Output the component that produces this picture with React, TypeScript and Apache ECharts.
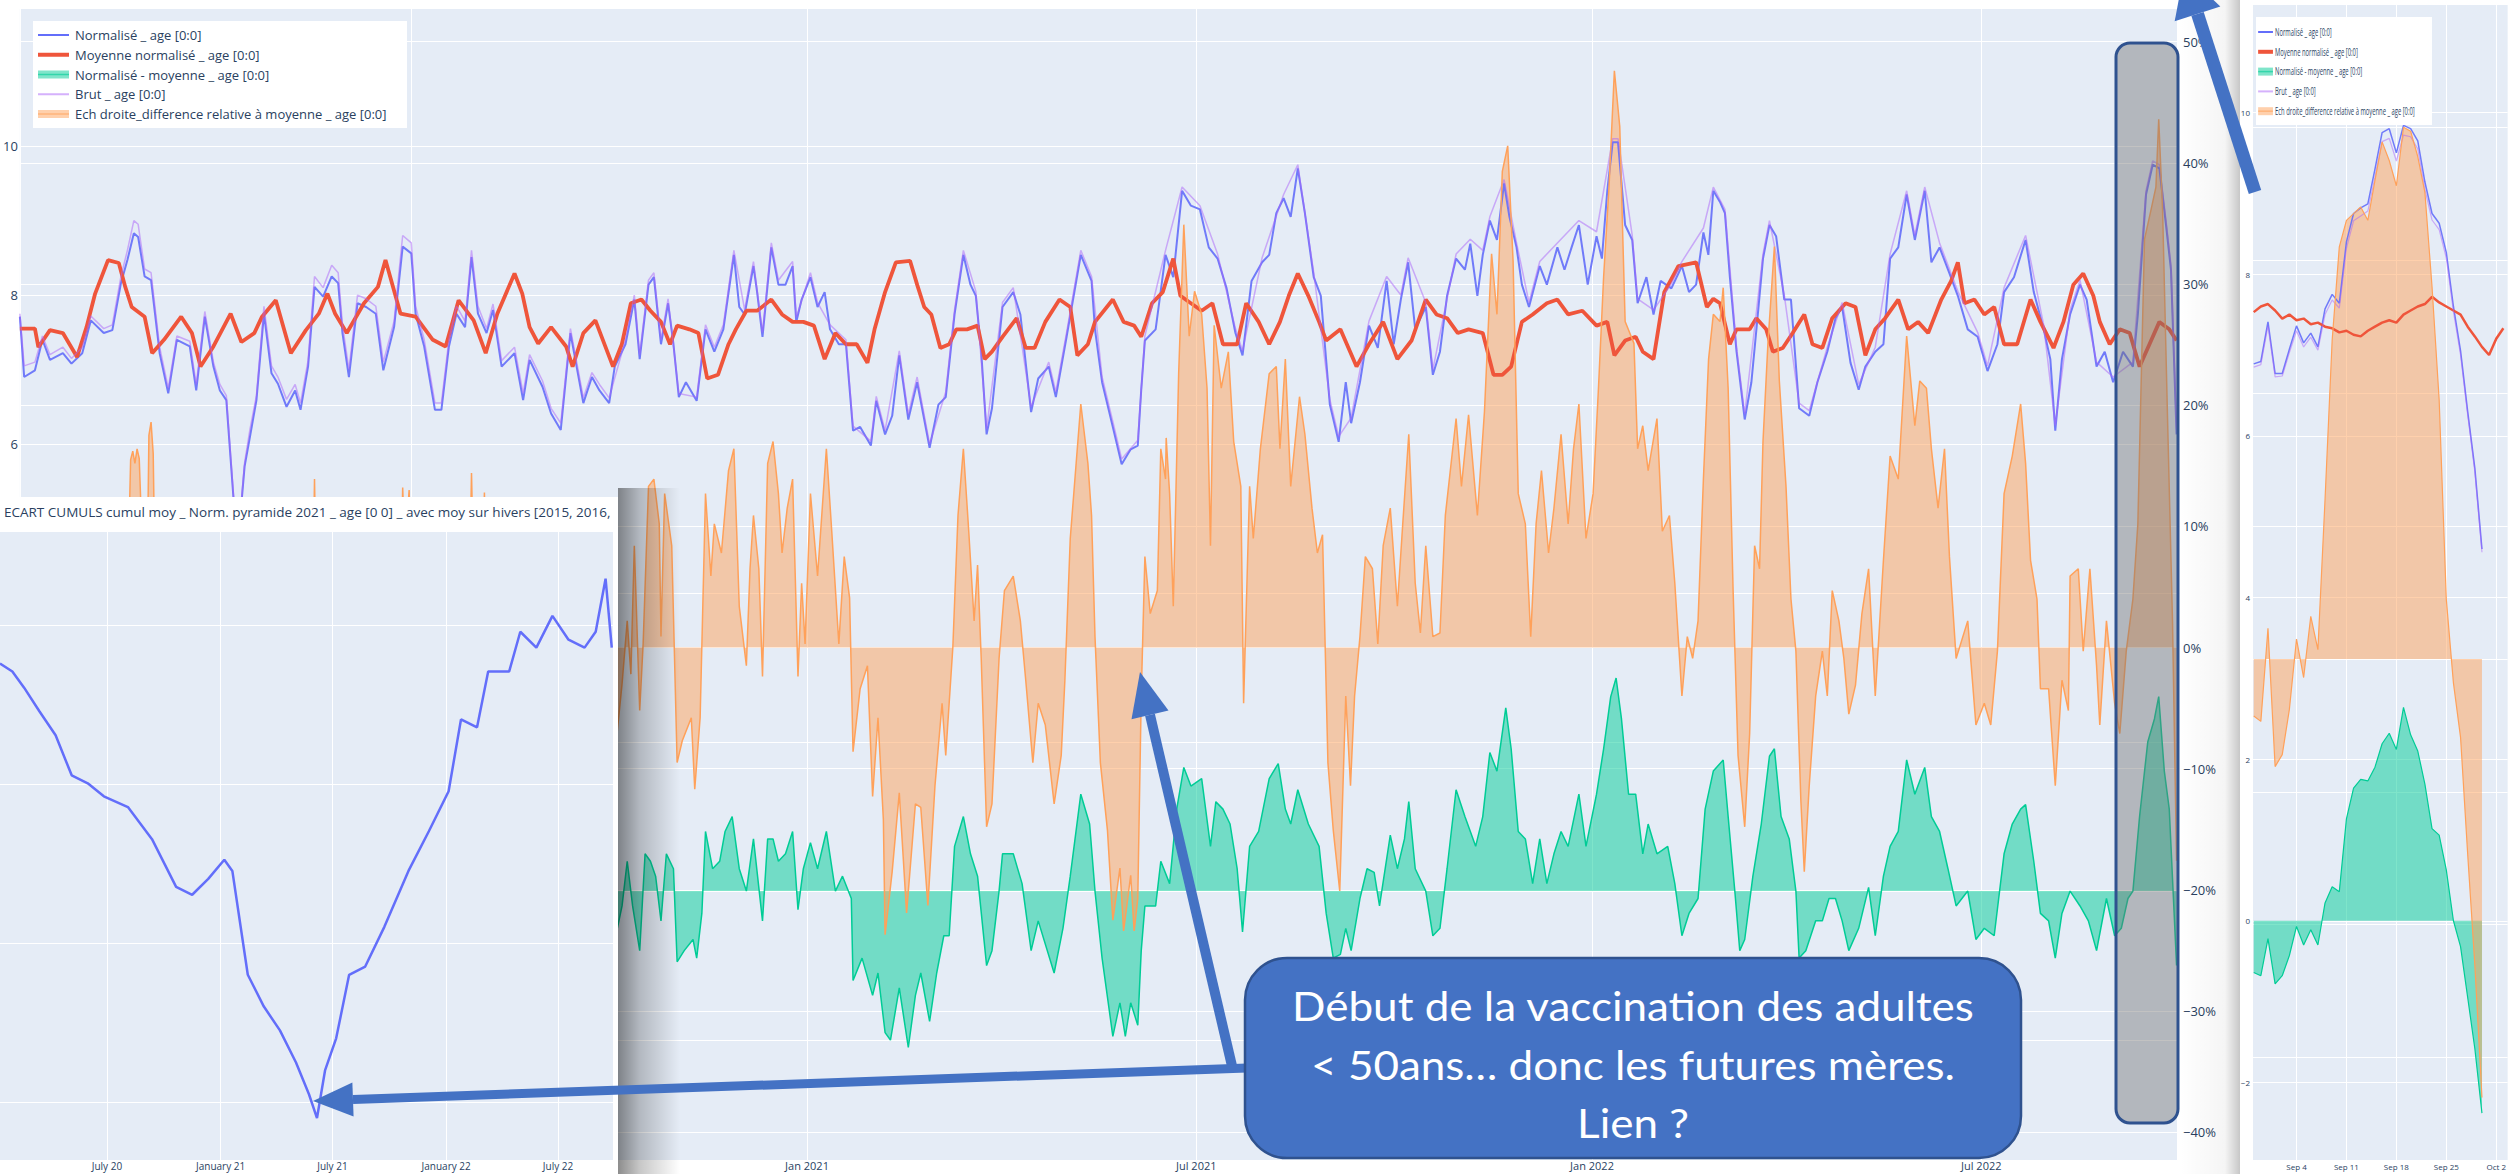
import React, { useEffect, useRef } from "react";
import * as echarts from "echarts";

const DAY = 86400000;
const T0 = Date.UTC(2020, 0, 1);

// ---------- main chart: [days since 2020-01-01, value] ----------
const normalise: [number, number][] = [
[0,7.71],[2,6.9],[7,6.99],[10.5,7.4],[14,7.13],[20,7.22],[24,7.08],[29,7.22],[33,7.66],[39,7.49],[43,7.53],[47,8.16],[50,8.47],[53,8.83],[55,8.78],[58,8.25],[61,8.2],[65,7.22],[69,6.68],[73,7.4],[79,7.31],[82,6.72],[86,7.71],[90,7.04],[93,6.72],[96,6.59],[99,5.4],[101,4.6],[103,5.2],[104.5,5.7],[107,6.1],[110,6.59],[113.5,7.75],[117,6.95],[120,6.81],[124,6.5],[128,6.72],[130.5,6.46],[134,7.04],[137,8.11],[141,7.98],[145,8.25],[148,8.16],[150,7.49],[153,6.9],[157,7.89],[161,7.84],[165.5,7.75],[169,6.99],[174,7.57],[178,8.65],[182,8.56],[184,7.75],[188,7.31],[193,6.46],[196,6.46],[199.5,7.31],[203,7.75],[207,7.57],[210,8.51],[213,7.75],[217,7.49],[220,7.8],[224,7.04],[230,7.22],[234,6.59],[237,7.13],[243,6.77],[247,6.41],[251.5,6.19],[256,7.49],[262,6.55],[266,6.9],[269.5,6.72],[274,6.55],
[276.6,7.04],[281.6,7.34],[285.7,7.94],[288.2,7.14],[292.3,8.14],[294.8,8.24],[298.1,7.34],[301.4,7.89],[303.9,7.34],[306.4,6.63],[309.7,6.83],[314.7,6.58],[318.8,7.54],[322.9,7.24],[327.1,7.54],[332,8.54],[334.5,7.84],[337,7.74],[341.1,8.39],[342.8,8.04],[345.3,7.44],[349.4,8.64],[352.7,8.14],[356,8.14],[359.3,8.39],[361,7.64],[363.5,7.94],[367.6,8.24],[370.9,7.84],[374.2,8.04],[376.7,7.54],[380.8,7.34],[384.1,7.34],[387.4,6.18],[390.7,6.23],[395.7,5.98],[398.2,6.58],[402.3,6.13],[405.6,6.38],[408.9,7.19],[413.1,6.33],[417.2,6.83],[423,5.95],[427.1,6.53],[430.5,6.63],[434.6,7.74],[438.7,8.54],[442,8.14],[444.5,7.99],[447,7.24],[449.5,6.13],[452,6.48],[456.9,7.84],[461.9,8.04],[465.2,7.74],[470.2,6.43],[473.5,6.88],[478.4,7.04],[481.7,6.63],[486.7,7.44],[493.3,8.54],[498.3,8.19],[499.9,7.54],[503.2,6.83],[508.2,6.23],[512.3,5.73],[516.5,5.93],[519.8,5.98],[521.4,6.73],[523.1,7.39],[528.1,7.54],
[532.7,8.54],[536.3,8.24],[540.4,9.4],[544.5,9.2],[548.7,9.15],[552.8,8.64],[556.9,8.49],[561.1,8.09],[565.2,7.49],[568.5,7.19],[572.7,8.19],[577.6,8.44],[580.9,8.54],[584.2,9.1],[587.6,9.3],[590.9,9.05],[594.2,9.7],[597.5,9.1],[601.6,8.24],[604.9,7.99],[609.1,6.53],[613.2,6.03],[616.5,6.83],[619,6.28],[623.1,6.83],[627.3,7.59],[631.4,7.29],[635.5,8.19],[638.8,7.34],[642.1,7.94],[645.5,8.44],[648.8,7.54],[653.7,7.84],[657,6.93],[660.3,7.24],[663.6,7.99],[667.8,8.49],[671.9,8.34],[674.4,8.69],[677.7,7.99],[680.2,8.54],[683.5,9.0],[686.8,8.74],[690.1,9.5],[692.6,9.05],[695.9,8.64],[698.4,8.14],[701.7,7.84],[706.7,8.39],[710,8.14],[714.9,8.64],[718.2,8.34],[721.5,8.64],[724.9,8.94],[729,8.14],[733.1,8.79],[735.6,8.49],[738.1,9.4],[740.6,10.05],[743.1,10.05],[746.4,8.94],[749.7,8.74],[752.2,7.89],[756.3,8.24],[759.6,7.74],[762.9,8.19],[767.9,8.09],[772.8,8.39],[776.1,8.04],[779.4,8.14],[782.8,8.84],
[785.1,8.54],[787.4,9.4],[790.5,9.25],[792.8,9.1],[795.1,8.24],[798.2,7.24],[802,6.33],[805.1,6.83],[808.1,7.74],[810.5,8.49],[813.5,8.94],[816.6,8.79],[820.4,7.94],[823.5,7.94],[827.3,6.48],[832,6.38],[835.8,6.83],[840.4,7.24],[844.2,7.69],[847.3,7.84],[851.2,7.09],[855,6.73],[858.1,7.04],[862.7,7.24],[866.5,7.34],[869.6,8.49],[873.4,8.64],[877.3,9.35],[881.1,8.74],[885.7,9.4],[888.8,8.44],[892.6,8.64],[897.2,8.29],[901.1,7.99],[905.7,7.54],[910.3,7.44],[914.9,6.98],[919.5,7.34],[922.6,8.04],[927.2,8.24],[932.6,8.74],[936.4,8.04],[941,7.54],[944.1,7.14],[946.4,6.18],[949.5,7.14],[953.3,7.74],[957.9,8.14],[961,7.94],[965.6,7.04],[969.4,7.24],[973.3,6.83],[977.9,7.24],[982.5,7.04],[984.8,7.74],[988.6,9.35],[991.7,9.75],[994.8,9.7],[997.9,8.94],[1000.2,8.34],[1002.8,6.13]
];

const moyenne: [number, number][] = [
[0,7.55],[7,7.55],[8.6,7.3],[14,7.53],[20,7.49],[26.6,7.17],[31,7.57],[35,8.02],[41,8.47],[46,8.43],[49,8.11],[52,7.84],[58,7.71],[61.5,7.22],[67,7.4],[75,7.71],[80,7.49],[84,7.04],[90,7.31],[98,7.75],[103,7.37],[109,7.49],[112.6,7.71],[119,7.93],[126,7.22],[133,7.53],[139,7.75],[143,8.02],[146.6,7.75],[152,7.49],[160,7.89],[166.5,8.11],[170,8.47],[177,7.75],[184,7.71],[192,7.4],[198,7.31],[204,7.93],[211,7.66],[216.6,7.22],[222,7.75],[230,8.29],[233.6,8.02],[237,7.57],[241,7.35],[247,7.57],[254,7.31],[257,7.04],[262,7.49],[267.6,7.66],
[275.8,7.04],[279.9,7.34],[284.1,7.89],[289,7.94],[293.2,7.79],[298.1,7.64],[302.3,7.34],[305.6,7.59],[311.3,7.54],[315.5,7.49],[319.6,6.88],[324.6,6.93],[329.5,7.34],[332.9,7.54],[337.8,7.79],[342.8,7.79],[349.4,7.94],[354.4,7.74],[359.3,7.64],[364.3,7.64],[369.2,7.59],[374.2,7.14],[379.2,7.49],[384.1,7.34],[389.1,7.34],[394.1,7.09],[397.4,7.54],[402.3,8.04],[407.3,8.44],[413.9,8.46],[417.2,8.14],[420.5,7.84],[423.8,7.74],[428,7.29],[432.1,7.34],[435.4,7.54],[440.4,7.54],[445.3,7.59],[448.6,7.14],[452,7.24],[456.9,7.44],[463.5,7.69],[467.7,7.29],[471.8,7.29],[476.8,7.64],[483.4,7.94],[488.4,7.84],[491.7,7.19],[496.6,7.34],[499.9,7.64],[508.2,7.94],[513.2,7.64],[518.1,7.59],[521.4,7.44],[526.4,7.89],[531.4,8.04],
[536.3,8.49],[539.6,7.99],[544.5,7.89],[549.5,7.79],[554.5,7.89],[559.4,7.34],[566,7.34],[570.2,7.89],[576,7.64],[580.9,7.34],[585.9,7.64],[590,7.99],[594.2,8.29],[599.1,7.99],[604.1,7.64],[607.4,7.39],[614,7.54],[621.5,7.04],[627.3,7.34],[633.9,7.64],[640.5,7.14],[647.1,7.39],[653.7,7.94],[658.7,7.74],[663.6,7.69],[668.6,7.49],[673.6,7.54],[680.2,7.49],[685.2,6.93],[689.3,6.93],[693.4,7.04],[698.4,7.64],[703.4,7.74],[710,7.89],[714.9,7.94],[719.9,7.74],[726.5,7.79],[733.1,7.59],[738.1,7.64],[741.4,7.19],[746.4,7.39],[751.3,7.44],[754.6,7.24],[759.6,7.14],[764.6,8.04],[771.2,8.39],[779.4,8.44],[784.4,7.84],
[787.4,7.95],[790.5,7.89],[795.1,7.34],[798.2,7.54],[804.3,7.54],[807.4,7.69],[812,7.54],[815.1,7.24],[819.7,7.29],[824.3,7.49],[829.7,7.74],[833.5,7.34],[838.1,7.29],[842.7,7.69],[848.9,7.89],[853.5,7.84],[858.1,7.19],[862.7,7.54],[867.3,7.69],[873.4,7.94],[878,7.54],[882.6,7.64],[887.3,7.49],[893.4,7.94],[898,8.19],[901.1,8.44],[904.2,7.89],[908.8,7.94],[913.4,7.74],[918,7.84],[922.6,7.34],[928.7,7.34],[934.9,7.94],[939.5,7.64],[945.6,7.29],[950.2,7.64],[954.8,8.14],[959.4,8.29],[964.1,7.99],[967.1,7.64],[971.7,7.34],[976.4,7.54],[981,7.49],[985.6,7.04],[990.2,7.34],[994.8,7.64],[999.4,7.54],[1002.8,7.39]
];

const ecart: [number, number][] = [
[0,0.16],[2,-0.65],[11,0],[20,-0.27],[29,-0.3],[33,-0.24],[42,-0.9],[47,-0.25],[53,1.0],[56,0.75],[61,1.0],[65,-0.1],[69,-0.7],[78,-0.3],[82,-0.6],[86,0.6],[93,-0.6],[98,-2.3],[101,-3.0],[104,-1.7],[110,-0.9],[113,0.05],[120,-1.1],[128,-0.7],[131,-1.0],[137,0.4],[145,0.4],[153,-0.7],[157,0.1],[169,-1.4],[178,0.95],[182,0.86],[193,-0.9],[200,-0.2],[210,0.85],[216,0.9],[224,-0.8],[230,-1.07],[234,-1.4],[243,-0.6],[251,-1.1],[256,0.4],[262,-0.95],[270,-0.6],[276,-0.75],[280,-0.2],
[282.4,0.4],[284.9,-0.2],[288.2,-0.8],[290.7,0.5],[293.2,0.4],[295.6,0.2],[298.1,-0.4],[300.6,0.5],[303.9,0.3],[305.6,-0.95],[308.9,-0.8],[313,-0.65],[314.7,-0.9],[317.1,-0.3],[318.8,0.8],[322.1,0.3],[325.4,0.4],[327.9,0.8],[331.2,1.0],[334.5,0.3],[337.8,0],[341.1,0.7],[345.3,-0.4],[347.7,0.7],[350.2,0.7],[352.7,0.4],[356,0.5],[359.3,0.8],[361.8,-0.25],[364.3,0.3],[367.6,0.65],[370.9,0.3],[375,0.8],[379.2,0],[382.5,0.2],[386.6,-0.1],[387.4,-1.2],[391.6,-0.9],[396.5,-1.4],[399,-1.1],[402.3,-1.9],[404.8,-2.0],[408.9,-1.3],[413.1,-2.1],[416.4,-1.4],[418.9,-1.1],[423,-1.75],[426.3,-1.1],[429.6,-0.6],[432.1,-0.6],[434.6,0.6],[438.7,1.0],[442,0.5],[445.3,0.2],[449.5,-1.0],[452,-0.8],[455.3,0],[456.9,0.5],[461.9,0.5],[466,0.1],[470.2,-0.8],[473.5,-0.4],[480.9,-1.1],[485,-0.5],[488.4,0.2],[493.3,1.3],[497.4,0.9],[499.9,0],[503.2,-0.9],[508.2,-1.95],[511.5,-1.5],[514,-1.95],[516.5,-1.5],[519.8,-1.8],[521.4,-0.8],[523.1,-0.2],[528.1,-0.2],[530.5,0.4],
[534.6,0.1],[537.9,1.1],[541.2,1.66],[544.5,1.41],[549.5,1.51],[553.6,0.6],[556.1,1.2],[559.4,1.1],[562.7,0.9],[566,0.3],[568.5,-0.55],[571.8,0.6],[576,0.8],[580.9,1.51],[585.1,1.71],[588.4,1.1],[590.9,0.9],[594.2,1.36],[599.1,0.9],[604.1,0.6],[607.4,-0.3],[610.7,-0.9],[614,-0.85],[616.5,-0.5],[619,-0.8],[623.1,-0.1],[626.4,0.3],[629.7,0.25],[632.2,-0.2],[637.2,0.75],[640.5,0.3],[643.8,0.7],[645.8,1.2],[648.8,0.3],[653.7,0],[657,-0.6],[660.3,-0.5],[663.6,0.3],[667.8,1.36],[671.9,1.0],[676.9,0.6],[680.2,1.0],[683.5,1.86],[686.8,1.61],[690.9,2.46],[693.4,1.91],[696.7,0.8],[700,0.7],[703.4,0.1],[706.7,0.7],[710,0.1],[713.3,0.5],[716.6,0.8],[719.9,0.6],[724.9,1.3],[728.2,0.6],[733.1,1.3],[736.4,1.91],[739.7,2.61],[742.2,2.86],[744.7,2.31],[748,1.3],[751.3,1.3],[754.6,0.5],[757.1,0.9],[761.2,0.5],[766.2,0.6],[769.5,0.1],[772.8,-0.6],[776.1,-0.3],[780.3,-0.1],[783.6,1.1],[787.4,1.61],
[792,1.76],[794.3,1.0],[797.4,0],[799.7,-0.8],[802,-0.65],[805.8,0.2],[809.7,0.9],[813.5,1.81],[815.8,1.91],[818.9,1.0],[822.7,0.7],[825.8,0],[827.3,-0.9],[830.4,-0.8],[835,-0.4],[838.1,-0.4],[841.2,-0.1],[844.2,-0.1],[847.3,-0.4],[850.4,-0.8],[855,-0.5],[859.6,0.05],[862.7,-0.6],[866.5,0.2],[869.6,0.6],[873.4,0.8],[877.3,1.76],[881.1,1.3],[885.7,1.66],[888.8,1.0],[892.6,0.8],[896.5,0.3],[900.3,-0.2],[905.7,0],[909.5,-0.65],[913.4,-0.5],[918,-0.6],[922.6,0.5],[926.4,0.9],[930.3,1.1],[932.6,1.16],[936.4,0.4],[939.5,-0.3],[943.3,-0.4],[946.4,-0.9],[949.5,-0.3],[953.3,0],[957.9,-0.2],[961.8,-0.4],[965.6,-0.8],[970.2,-0.1],[974,-0.6],[977.1,-0.5],[980.2,-0.1],[982.5,0],[985.6,1.0],[989.4,2.0],[992.5,2.31],[994.5,2.61],[997.1,1.61],[999.4,1.1],[1002.8,-1.0]
];

const brut: [number, number][] = [
[0,7.75],[2,7.05],[7,7.1],[10.5,7.45],[14,7.2],[20,7.3],[24,7.15],[29,7.3],[33,7.72],[39,7.55],[43,7.6],[47,8.25],[50,8.6],[53,9.0],[55,8.95],[58,8.35],[61,8.3],[65,7.3],[69,6.75],[73,7.45],[79,7.38],[82,6.8],[86,7.78],[90,7.1],[93,6.8],[96,6.65],[99,5.45],[101,4.65],[103,5.25],[104.5,5.75],[107,6.2],[110,6.65],[113.5,7.85],[117,7.05],[120,6.9],[124,6.6],[128,6.8],[130.5,6.55],[134,7.12],[137,8.25],[141,8.1],[145,8.4],[148,8.3],[150,7.6],[153,7.0],[157,8.0],[161,7.95],[165.5,7.85],[169,7.1],[174,7.65],[178,8.8],[182,8.7],[184,7.85],[188,7.4],[193,6.55],[196,6.55],[199.5,7.4],[203,7.85],[207,7.65],[210,8.6],[213,7.85],[217,7.55],[220,7.88],[224,7.12],[230,7.3],[234,6.68],[237,7.2],[243,6.85],[247,6.48],[251.5,6.28],[256,7.55],[262,6.62],[266,6.96],[269.5,6.8],[274,6.62],
[281.6,7.4],[285.7,8.0],[288.2,7.2],[292.3,8.2],[294.8,8.3],[298.1,7.4],[301.4,7.95],[306.4,6.68],[314.7,6.63],[318.8,7.6],[322.9,7.3],[327.1,7.6],[332,8.6],[337,7.8],[341.1,8.45],[345.3,7.5],[349.4,8.7],[352.7,8.2],[359.3,8.45],[361,7.7],[367.6,8.3],[370.9,7.9],[376.7,7.6],[384.1,7.4],[387.4,6.24],[395.7,6.04],[398.2,6.64],[402.3,6.18],[408.9,7.25],[413.1,6.4],[417.2,6.9],[423,6.0],[430.5,6.7],[434.6,7.8],[438.7,8.6],[444.5,8.05],[449.5,6.2],[456.9,7.9],[461.9,8.1],[470.2,6.5],[478.4,7.1],[481.7,6.7],[486.7,7.5],[493.3,8.6],[498.3,8.25],[503.2,6.9],[508.2,6.3],[512.3,5.8],[519.8,6.05],[523.1,7.45],
[532.7,8.6],[540.4,9.45],[548.7,9.2],[556.9,8.55],[565.2,7.55],[568.5,7.25],[577.6,8.5],[587.6,9.35],[594.2,9.75],[601.6,8.3],[609.1,6.6],[613.2,6.1],[619,6.35],[627.3,7.65],[635.5,8.25],[642.1,8.0],[645.5,8.5],[653.7,7.9],[657,7.0],[667.8,8.55],[674.4,8.75],[680.2,8.6],[683.5,9.05],[690.1,9.55],[695.9,8.7],[701.7,7.9],[706.7,8.45],[714.9,8.7],[724.9,9.0],[733.1,8.85],[740.6,10.1],[743.1,10.1],[749.7,8.8],[752.2,7.95],[759.6,7.8],[767.9,8.15],[772.8,8.45],[782.8,8.9],
[787.4,9.45],[792.8,9.15],[798.2,7.3],[802,6.4],[810.5,8.55],[813.5,9.0],[820.4,8.0],[827.3,6.55],[832,6.45],[840.4,7.3],[847.3,7.9],[855,6.8],[862.7,7.3],[869.6,8.55],[877.3,9.4],[881.1,8.8],[885.7,9.45],[892.6,8.7],[901.1,8.05],[910.3,7.5],[914.9,7.05],[922.6,8.1],[932.6,8.8],[941,7.6],[946.4,6.25],[953.3,7.8],[957.9,8.2],[965.6,7.1],[973.3,6.9],[982.5,7.1],[988.6,9.4],[991.7,9.8],[994.8,9.75],[997.9,9.0],[1000.2,8.4],[1002.8,6.2]
];

const diffRel: [number, number][] = [
[0,2.1],[2,-8.6],[11,0],[20,-3.6],[29,-4],[33,-3],[42,-11],[47,-3],[50,4],[51.5,15.5],[52.5,16.2],[53.5,15.2],[54.5,16.4],[55.5,15.6],[57,8],[59,3],[60,17.5],[61,18.6],[62,16],[63,4],[65,-1],[69,-10],[78,-4],[82,-8],[86,8],[93,-8],[98,-30],[101,-40],[104,-23],[110,-12],[113,1],[120,-14],[128,-9],[131,-14],[136,2],[137,13.9],[138,3],[145,5],[153,-9],[157,1],[169,-17],[177,4],[178,13.2],[179,8],[181,13],[182,5],[193,-13],[200,-3],[209,5],[210,14.4],[211,6],[215,4],[216,12.8],[217,3],[224,-10],[230,-13],[234,-18],[243,-8],[251,-15],[256,5],[262,-13],[270,-8],[276,-10],[280,-3],
[282.4,2.2],[284.1,-2.2],[285.7,8.4],[288.2,-5.2],[289.8,0.3],[292.3,13.3],[294.8,13.9],[297.3,10.2],[298.1,0.9],[299.8,12.7],[303.1,8.4],[305.6,-9.5],[308,-7.7],[312.2,-5.8],[313.8,-11.7],[316.3,-5.8],[318.8,12.7],[321.3,5.9],[322.9,10.2],[326.2,7.8],[329.5,14.6],[332,16.4],[334.5,3.4],[337.8,-1.5],[339.5,6.5],[341.1,10.9],[343.6,6.5],[345.3,-2.4],[347.7,15.2],[350.2,17.0],[352.7,12.7],[354.4,7.8],[356.8,11.5],[359.3,13.9],[361.8,-2.4],[363.5,5.3],[365.1,0.3],[367.6,12.7],[370.9,5.9],[375,16.4],[377.5,9.6],[380.8,0.3],[383.3,7.5],[385.8,4.1],[387.4,-8.6],[390.7,-3.4],[394.1,-1.5],[396.5,-12.3],[399,-5.8],[401.5,-14.2],[402.3,-23.7],[405.6,-18.5],[408.9,-12],[412.3,-21.9],[416.4,-12.9],[418.9,-13.2],[422.2,-21.3],[425.5,-11.4],[428.8,-4.6],[430.5,-8.9],[433.8,0],[436.2,10.9],[438.7,16.4],[441.2,9.6],[443.7,2.2],[445.3,6.8],[447,-0.9],[449.5,-14.8],[452,-12.9],[455.3,-0.9],[457.8,4.7],[461.9,5.9],[465.2,2.2],[467.7,-2.7],[471,-9.5],[473.5,-4.6],[476.8,-6.4],[480.9,-12.9],[484.2,-8.9],[485.9,-2.7],[488.4,9],[493.3,20.1],[496.6,15.2],[498.3,10.9],[499.9,0.9],[502.4,-9.5],[505.7,-15.1],[508.2,-22.5],[511.5,-18.2],[513.2,-23.4],[516.5,-18.8],[518.1,-23.4],[519.8,-20.7],[521.4,-4],[523.1,7.5],[525.6,2.8],[528.9,4.7],[530.5,16.4],[532.7,13.9],
[533,17.3],[534.6,12.7],[536.3,3.4],[538.8,22.6],[541.2,34.9],[543.7,25.7],[546.2,29.4],[549.5,27.5],[552,21.4],[553.6,8.4],[555.3,26.6],[558.6,21.4],[561.9,24.4],[564.4,17.0],[567.7,13.3],[569,-4.6],[571.8,13.3],[573.5,9.0],[576.8,16.4],[580.9,22.6],[584.2,23.2],[585.9,16.4],[588.4,23.8],[590.9,13.3],[595,20.7],[597.5,17.6],[600.8,11.5],[603.3,7.8],[605.7,9.3],[608.2,-9.5],[610.7,-15.1],[613.7,-20.1],[616.5,-4.0],[618.7,-11.4],[620.6,-4.0],[623.1,0.9],[625.6,7.5],[628.9,6.5],[631.4,0.3],[633.9,8.4],[637.2,11.5],[640.5,3.4],[643,10.2],[645.8,17.6],[648.8,5.3],[651.2,1.2],[653.7,8.4],[657,0.9],[660.3,1.2],[662.8,10.9],[667.8,18.9],[670.3,13.3],[673.6,19.2],[677.7,10.9],[681,19.5],[684.3,32.5],[686.8,27.5],[689.3,39.3],[691.8,41.4],[694.3,31.9],[696.7,12.7],[700,10.2],[702.5,0.9],[705,10.2],[707.5,14.6],[710.8,7.8],[713.3,11.5],[716.6,17.6],[719.9,10.2],[722.4,16.4],[724.9,20.1],[728.2,9.0],[731.5,12.7],[734,21.4],[736.4,30.6],[738.9,38.0],[741.4,47.6],[743.9,43.0],[746.4,26.9],[750.5,25.1],[752.2,16.4],[754.6,18.3],[757.1,14.6],[761.2,18.9],[763.7,9.6],[767,10.9],[769.5,5.3],[772.8,-4.0],[775.3,0.9],[777.8,-0.9],[780.3,2.2],[782.8,13.9],[785.2,23.8],[787.4,27.5],
[790.5,26.9],[792,29.7],[794.3,21.4],[796.6,4.7],[798.9,-8.9],[802,-14.8],[804.3,-7.1],[806.6,8.4],[808.9,6.5],[810.5,17.0],[812.8,25.1],[815.8,33.1],[818.1,22.0],[821.2,13.3],[823.5,4.0],[825.8,-0.3],[828.1,-12.6],[829.7,-18.5],[832,-11.4],[835,-4.0],[838.1,-0.3],[840.4,-4.0],[842.7,4.7],[845.8,2.2],[848.1,-0.9],[850.4,-5.5],[853.5,-3.1],[856.5,2.8],[859.6,6.5],[862.7,-4.0],[866.5,7.2],[869.6,15.8],[873.4,13.9],[877.3,25.7],[881.1,18.3],[883.4,22.0],[886.5,21.4],[888.8,16.4],[891.9,11.5],[894.9,16.4],[897.2,7.5],[900.3,-0.9],[905.7,2.2],[909.5,-6.4],[913.4,-4.6],[916.4,-6.4],[919.5,-0.3],[922.6,12.7],[926.4,15.8],[930.3,20.1],[932.6,15.2],[934.9,7.2],[937.9,4.0],[939.5,-3.4],[943.3,-3.4],[946.4,-11.4],[949.5,-2.7],[952.5,-5.2],[953.3,5.9],[957.1,6.5],[959.4,-0.3],[962.5,6.5],[965.6,-1.5],[967.1,-6.4],[970.2,2.2],[974,-4.6],[976.4,-7.1],[979.4,-0.3],[982.5,4.0],[984.8,10.2],[987.9,33.7],[990.9,36.1],[993.2,38.0],[994.5,43.6],[996.3,36.1],[998.6,18.9],[1000.9,2.2],[1002.8,-17.6]
];

// ---------- left inset: cumulative gap ----------
const cumulDates = ["2020-01-10","2020-01-30","2020-02-18","2020-03-14","2020-04-09","2020-05-05","2020-05-31","2020-06-26","2020-08-04","2020-09-12","2020-10-21","2020-11-16","2020-12-12","2021-01-07","2021-01-20","2021-02-14","2021-03-12","2021-04-07","2021-05-03","2021-05-24","2021-06-06","2021-06-19","2021-07-07","2021-07-28","2021-08-23","2021-09-23","2021-11-01","2021-12-04","2022-01-05","2022-01-25","2022-02-20","2022-03-10","2022-04-13","2022-05-01","2022-05-27","2022-06-22","2022-07-18","2022-08-13","2022-08-31","2022-09-16","2022-09-26"];
const cumulValues = [-119,-144,-195,-270,-345,-471,-496,-537,-571,-672,-822,-847,-797,-737,-772,-1099,-1199,-1274,-1375,-1475,-1550,-1400,-1299,-1099,-1073,-948,-772,-647,-521,-295,-320,-144,-144,-19,-69,31,-44,-69,-19,148,-69];

// ---------- right inset: September 2022 zoom ----------
const zoomDates = ["2022-08-29","2022-08-30","2022-08-31","2022-09-01","2022-09-02","2022-09-03","2022-09-04","2022-09-05","2022-09-06","2022-09-07","2022-09-08","2022-09-09","2022-09-10","2022-09-11","2022-09-12","2022-09-13","2022-09-14","2022-09-15","2022-09-16","2022-09-17","2022-09-18","2022-09-19","2022-09-20","2022-09-21","2022-09-22","2022-09-23","2022-09-24","2022-09-25","2022-09-26","2022-09-27","2022-09-28","2022-09-29","2022-09-30"];
const zoomNormalise = [6.89,6.92,7.41,6.77,6.77,7.07,7.36,7.15,7.27,7.1,7.57,7.75,7.64,8.4,8.75,8.82,8.87,9.3,9.75,9.8,9.5,9.84,9.8,9.65,9.14,8.75,8.63,8.27,7.6,7.05,6.3,5.6,4.6];
const zoomBrut = [6.85,6.88,7.36,6.73,6.74,7.03,7.3,7.1,7.22,7.06,7.5,7.68,7.58,8.32,8.66,8.72,8.78,9.2,9.64,9.68,9.4,9.72,9.7,9.55,9.05,8.67,8.55,8.2,7.54,7.0,6.26,5.56,4.56];
const zoomEcart = [-0.64,-0.68,-0.22,-0.78,-0.68,-0.43,-0.07,-0.3,-0.11,-0.3,0.22,0.42,0.36,1.26,1.64,1.75,1.73,1.9,2.19,2.32,2.12,2.64,2.3,2.1,1.69,1.14,1.06,0.63,0,-0.32,-0.95,-1.58,-2.38];
const zoomDiffRel = [-4.3,-4.7,2.3,-8.1,-7.2,-3.8,1.5,-1.4,3.2,0.7,12,24,31,33,33.5,34,33,36,38.9,37.5,35.6,40,39.7,37.8,35.1,28,19.5,4.5,-1.8,-5.9,-14.7,-23,-33];
const zoomMoyenneDates = ["2022-08-29","2022-08-30","2022-08-31","2022-09-01","2022-09-02","2022-09-03","2022-09-04","2022-09-05","2022-09-06","2022-09-07","2022-09-08","2022-09-09","2022-09-10","2022-09-11","2022-09-12","2022-09-13","2022-09-14","2022-09-15","2022-09-16","2022-09-17","2022-09-18","2022-09-19","2022-09-20","2022-09-21","2022-09-22","2022-09-23","2022-09-24","2022-09-25","2022-09-26","2022-09-27","2022-09-28","2022-09-29","2022-09-30","2022-10-01","2022-10-02","2022-10-03"];
const zoomMoyenne = [7.53,7.6,7.63,7.55,7.45,7.5,7.43,7.45,7.38,7.4,7.35,7.33,7.28,7.3,7.25,7.23,7.3,7.35,7.4,7.43,7.4,7.5,7.55,7.6,7.63,7.72,7.65,7.6,7.55,7.5,7.35,7.23,7.1,7.0,7.2,7.33];

// ---------- texts ----------
const seriesNames = [
  "Normalisé _ age [0:0]",
  "Moyenne normalisé _ age [0:0]",
  "Normalisé - moyenne _ age [0:0]",
  "Brut _ age [0:0]",
  "Ech droite_difference relative à moyenne _ age [0:0]",
];
const monthsShort = ["Jan","Feb","Mar","Apr","May","Jun","Jul","Aug","Sep","Oct","Nov","Dec"];
const monthsLong = ["January","February","March","April","May","June","July","August","September","October","November","December"];
const insetTitle = "ECART CUMULS cumul moy _ Norm. pyramide 2021 _ age [0 0] _ avec moy sur hivers [2015, 2016,";
const calloutLines = ["Début de la vaccination des adultes", "< 50ans… donc les futures mères.", "Lien ?"];

const C = {
  blue: "#636efa", red: "#EF553B", green: "#00cc96", purple: "#ab63fa", orange: "#FFA15A",
  greenFill: "rgba(0,204,150,0.5)", orangeFill: "rgba(255,161,90,0.5)",
  bg: "#E5ECF6", text: "#2a3f5f", office: "#4472C4", officeDark: "#2F528F",
};

const ts = (s: string) => Date.parse(s + "T00:00:00Z");
const SEP4 = Date.UTC(2022, 8, 4);
const FIRST_MAIN_LABEL = Date.UTC(2020, 11, 1);
const mainPts = (a: [number, number][]) => a.map(([d, v]) => [T0 + d * DAY, v]);
const zoomX = (s: string) => (ts(s) - SEP4) / DAY;
const minusFmt = (v: number) => (v < 0 ? "\u2212" + Math.abs(v) : String(v));

function legendItems(fontSize: number, x0: number, symW: number, textX: number, y0: number, gap: number, zlevel: number, z: number) {
  const els: any[] = [];
  const sym = [
    { kind: "line", color: C.blue, w: 2, op: 1 },
    { kind: "line", color: C.red, w: 4, op: 1 },
    { kind: "fill", color: C.green, fill: C.greenFill },
    { kind: "line", color: C.purple, w: 2, op: 0.5 },
    { kind: "fill", color: C.orange, fill: C.orangeFill },
  ];
  seriesNames.forEach((name, i) => {
    const yc = y0 + i * gap;
    const s: any = sym[i];
    if (s.kind === "fill") {
      els.push({ type: "rect", zlevel, z, shape: { x: x0, y: yc - 4, width: symW, height: 8 }, style: { fill: s.fill } });
      els.push({ type: "line", zlevel, z, shape: { x1: x0, y1: yc, x2: x0 + symW, y2: yc }, style: { stroke: s.color, lineWidth: 1.5, opacity: 0.6 } });
    } else {
      els.push({ type: "line", zlevel, z, shape: { x1: x0, y1: yc, x2: x0 + symW, y2: yc }, style: { stroke: s.color, lineWidth: s.w, opacity: s.op } });
    }
    els.push({ type: "text", zlevel, z, x: textX, y: yc, style: { text: name, fontSize, fontFamily: "Open Sans", fill: C.text, verticalAlign: "middle" } });
  });
  return els;
}

function arrowHead(tip: [number, number], from: [number, number], len: number, half: number) {
  const dx = tip[0] - from[0], dy = tip[1] - from[1];
  const L = Math.hypot(dx, dy);
  const ux = dx / L, uy = dy / L;
  const bx = tip[0] - ux * len, by = tip[1] - uy * len;
  return { base: [bx, by], pts: [tip, [bx - uy * half, by + ux * half], [bx + uy * half, by - ux * half]] };
}

export default function App() {
  const ref = useRef<HTMLDivElement>(null);
  useEffect(() => {
    document.body.style.margin = "0";
    if (!ref.current) return;
    const chart = echarts.init(ref.current, undefined, { renderer: "svg" });

    const split = { show: true, lineStyle: { color: "#ffffff", width: 1 }, showMinLine: false, showMaxLine: false };
    const noAxis = { axisLine: { show: false }, axisTick: { show: false } };
    const halfYear = { splitNumber: 5, minInterval: 181 * DAY, maxInterval: 184 * DAY };

    const a1Start: [number, number] = [1232, 1066], a1Tip: [number, number] = [1140, 672];
    const a2Start: [number, number] = [1247, 1068], a2Tip: [number, number] = [313, 1101];
    const a3Start: [number, number] = [2255, 192], a3Tip: [number, number] = [2184, -28];
    const h1 = arrowHead(a1Tip, a1Start, 44, 19);
    const h2 = arrowHead(a2Tip, a2Start, 40, 17);
    const h3 = arrowHead(a3Tip, a3Start, 44, 24);

    const graphic: any[] = [
      { type: "rect", zlevel: 0, z: 50, shape: { x: 33, y: 21, width: 374, height: 107 }, style: { fill: "#ffffff" } },
      ...legendItems(13, 38, 31, 75, 35, 19.75, 0, 51),
      { type: "rect", zlevel: 1, z: 0, shape: { x: 0, y: 497, width: 618, height: 677 }, style: { fill: "#ffffff" } },
      { type: "rect", zlevel: 1, z: 0, shape: { x: 618, y: 488, width: 62, height: 686 },
        style: { fill: { type: "linear", x: 0, y: 0, x2: 1, y2: 0, colorStops: [
          { offset: 0, color: "rgba(0,0,0,0.45)" }, { offset: 0.35, color: "rgba(0,0,0,0.22)" }, { offset: 1, color: "rgba(0,0,0,0)" } ] } } },
      { type: "text", zlevel: 1, z: 1, x: 4, y: 512, style: { text: insetTitle, fontSize: 13.5, fontFamily: "Open Sans", fill: C.text, verticalAlign: "middle" } },
      { type: "rect", zlevel: 1, z: 0, shape: { x: 2180, y: 0, width: 60, height: 1174 },
        style: { fill: { type: "linear", x: 0, y: 0, x2: 1, y2: 0, colorStops: [
          { offset: 0, color: "rgba(0,0,0,0)" }, { offset: 0.75, color: "rgba(0,0,0,0.04)" }, { offset: 1, color: "rgba(0,0,0,0.22)" } ] } } },
      { type: "rect", zlevel: 1, z: 0, shape: { x: 2240, y: 0, width: 269, height: 1174 }, style: { fill: "#ffffff" } },
      { type: "group", zlevel: 2, z: 50, x: 2256, y: 17, scaleX: 0.53, children: [
        { type: "rect", zlevel: 2, z: 50, shape: { x: 0, y: 0, width: 332, height: 108 }, style: { fill: "#ffffff" } },
        ...legendItems(11, 4, 28, 36, 15, 19.8, 2, 51),
      ] },
      { type: "rect", zlevel: 3, z: 1, shape: { x: 2116, y: 43, width: 62, height: 1080, r: 14 },
        style: { fill: "rgba(110,110,110,0.42)", stroke: C.officeDark, lineWidth: 3 } },
      { type: "line", zlevel: 3, z: 2, shape: { x1: a1Start[0], y1: a1Start[1], x2: h1.base[0], y2: h1.base[1] }, style: { stroke: C.office, lineWidth: 10 } },
      { type: "polygon", zlevel: 3, z: 2, shape: { points: h1.pts }, style: { fill: C.office } },
      { type: "line", zlevel: 3, z: 2, shape: { x1: a2Start[0], y1: a2Start[1], x2: h2.base[0], y2: h2.base[1] }, style: { stroke: C.office, lineWidth: 9 } },
      { type: "polygon", zlevel: 3, z: 2, shape: { points: h2.pts }, style: { fill: C.office } },
      { type: "line", zlevel: 3, z: 2, shape: { x1: a3Start[0], y1: a3Start[1], x2: h3.base[0], y2: h3.base[1] }, style: { stroke: C.office, lineWidth: 13 } },
      { type: "polygon", zlevel: 3, z: 2, shape: { points: h3.pts }, style: { fill: C.office } },
      { type: "rect", zlevel: 3, z: 3, shape: { x: 1245, y: 958, width: 776, height: 200, r: 42 },
        style: { fill: C.office, stroke: C.officeDark, lineWidth: 2.5 } },
      ...calloutLines.map((t, i) => ({ type: "text", zlevel: 3, z: 4, x: 1633, y: 1006 + i * 58.5, scaleX: 1.1,
        style: { text: t, fontSize: 40, fontFamily: "Lato", fill: "#ffffff", align: "center", verticalAlign: "middle" } })),
    ];

    const lineBase = { type: "line", showSymbol: false, symbol: "none", animation: false };

    const option: any = {
      animation: false,
      useUTC: true,
      backgroundColor: "#ffffff",
      textStyle: { fontFamily: "Open Sans" },
      grid: [
        { left: 10, right: 332, top: 9, bottom: 14, show: true, backgroundColor: C.bg, borderWidth: 0, zlevel: 0 },
        { left: 0, width: 613, top: 532, bottom: 14, show: true, backgroundColor: C.bg, borderWidth: 0, zlevel: 2 },
        { left: 2253, right: 0, top: 5, bottom: 14, show: true, backgroundColor: C.bg, borderWidth: 0, zlevel: 2 },
      ],
      xAxis: [
        { type: "time", gridIndex: 0, zlevel: 0, min: T0, max: Date.UTC(2022, 8, 30), ...halfYear, ...noAxis, splitLine: split,
          axisLabel: { fontSize: 11, lineHeight: 11, color: C.text, margin: 0,
            formatter: (v: number) => { if (v < FIRST_MAIN_LABEL) return ""; const d = new Date(v); return monthsShort[d.getUTCMonth()] + " " + d.getUTCFullYear(); } } },
        { type: "time", gridIndex: 1, zlevel: 2, min: ts("2020-01-10"), max: ts("2022-09-28"), ...halfYear, ...noAxis, splitLine: split,
          axisLabel: { fontSize: 10, lineHeight: 10, color: C.text, margin: 1,
            formatter: (v: number) => { const d = new Date(v); return monthsLong[d.getUTCMonth()] + " " + String(d.getUTCFullYear()).slice(2); } } },
        { type: "value", gridIndex: 2, zlevel: 2, min: -6.1, max: 29.6, minInterval: 7, maxInterval: 7, ...noAxis, splitLine: split,
          axisLabel: { fontSize: 8, lineHeight: 9, color: C.text, margin: 2, showMinLabel: false, showMaxLabel: false,
            formatter: (v: number) => { const d = new Date(SEP4 + v * DAY); return monthsShort[d.getUTCMonth()] + " " + d.getUTCDate(); } } },
      ],
      yAxis: [
        { type: "value", gridIndex: 0, zlevel: 0, position: "left", min: -3.61, max: 11.84, minInterval: 2, maxInterval: 2, splitNumber: 8, ...noAxis, splitLine: split,
          axisLabel: { fontSize: 13, color: C.text, margin: 2, showMinLabel: false, showMaxLabel: false, formatter: minusFmt } },
        { type: "value", gridIndex: 0, zlevel: 0, position: "right", min: -42.3, max: 52.7, minInterval: 10, maxInterval: 10, splitNumber: 10, ...noAxis, splitLine: split,
          axisLabel: { fontSize: 13, color: C.text, margin: 6, showMinLabel: false, showMaxLabel: false, formatter: (v: number) => minusFmt(v) + "%" } },
        { type: "value", gridIndex: 1, zlevel: 2, min: -1682, max: 295, minInterval: 500, maxInterval: 500, ...noAxis, splitLine: split, axisLabel: { show: false } },
        { type: "value", gridIndex: 2, zlevel: 2, position: "left", min: -2.96, max: 11.33, minInterval: 2, maxInterval: 2, splitNumber: 7, ...noAxis, splitLine: split,
          axisLabel: { fontSize: 8, color: C.text, margin: 3, showMinLabel: false, showMaxLabel: false, formatter: minusFmt } },
        { type: "value", gridIndex: 2, zlevel: 2, position: "right", min: -37.7, max: 49.2, minInterval: 10, maxInterval: 10, splitNumber: 9, ...noAxis, splitLine: split, axisLabel: { show: false } },
      ],
      series: [
        { ...lineBase, name: seriesNames[0], xAxisIndex: 0, yAxisIndex: 0, zlevel: 0, data: mainPts(normalise), lineStyle: { color: C.blue, width: 2, opacity: 0.9 }, itemStyle: { color: C.blue } },
        { ...lineBase, name: seriesNames[1], xAxisIndex: 0, yAxisIndex: 0, zlevel: 0, data: mainPts(moyenne), lineStyle: { color: C.red, width: 3.8 }, itemStyle: { color: C.red } },
        { ...lineBase, name: seriesNames[2], xAxisIndex: 0, yAxisIndex: 0, zlevel: 0, data: mainPts(ecart), lineStyle: { color: C.green, width: 1.5 }, itemStyle: { color: C.green }, areaStyle: { color: C.greenFill, opacity: 1 } },
        { ...lineBase, name: seriesNames[3], xAxisIndex: 0, yAxisIndex: 0, zlevel: 0, data: mainPts(brut), lineStyle: { color: C.purple, width: 1.5, opacity: 0.5 }, itemStyle: { color: C.purple } },
        { ...lineBase, name: seriesNames[4], xAxisIndex: 0, yAxisIndex: 1, zlevel: 0, data: mainPts(diffRel), lineStyle: { color: C.orange, width: 1.5 }, itemStyle: { color: C.orange }, areaStyle: { color: C.orangeFill, opacity: 1 } },
        { ...lineBase, name: "ECART CUMULS", xAxisIndex: 1, yAxisIndex: 2, zlevel: 2, data: cumulDates.map((d, i) => [ts(d), cumulValues[i]]), lineStyle: { color: C.blue, width: 2.5 } },
        { ...lineBase, name: "zoom " + seriesNames[0], xAxisIndex: 2, yAxisIndex: 3, zlevel: 2, data: zoomDates.map((d, i) => [zoomX(d), zoomNormalise[i]]), lineStyle: { color: C.blue, width: 1.5, opacity: 0.9 } },
        { ...lineBase, name: "zoom " + seriesNames[1], xAxisIndex: 2, yAxisIndex: 3, zlevel: 2, data: zoomMoyenneDates.map((d, i) => [zoomX(d), zoomMoyenne[i]]), lineStyle: { color: C.red, width: 2.5 } },
        { ...lineBase, name: "zoom " + seriesNames[2], xAxisIndex: 2, yAxisIndex: 3, zlevel: 2, data: zoomDates.map((d, i) => [zoomX(d), zoomEcart[i]]), lineStyle: { color: C.green, width: 1.2 }, areaStyle: { color: C.greenFill, opacity: 1 } },
        { ...lineBase, name: "zoom " + seriesNames[3], xAxisIndex: 2, yAxisIndex: 3, zlevel: 2, data: zoomDates.map((d, i) => [zoomX(d), zoomBrut[i]]), lineStyle: { color: C.purple, width: 1.2, opacity: 0.5 } },
        { ...lineBase, name: "zoom " + seriesNames[4], xAxisIndex: 2, yAxisIndex: 4, zlevel: 2, data: zoomDates.map((d, i) => [zoomX(d), zoomDiffRel[i]]), lineStyle: { color: C.orange, width: 1.2 }, areaStyle: { color: C.orangeFill, opacity: 1 } },
      ],
      graphic,
    };
    chart.setOption(option);
    return () => chart.dispose();
  }, []);
  return <div ref={ref} style={{ width: 2509, height: 1174 }} />;
}
